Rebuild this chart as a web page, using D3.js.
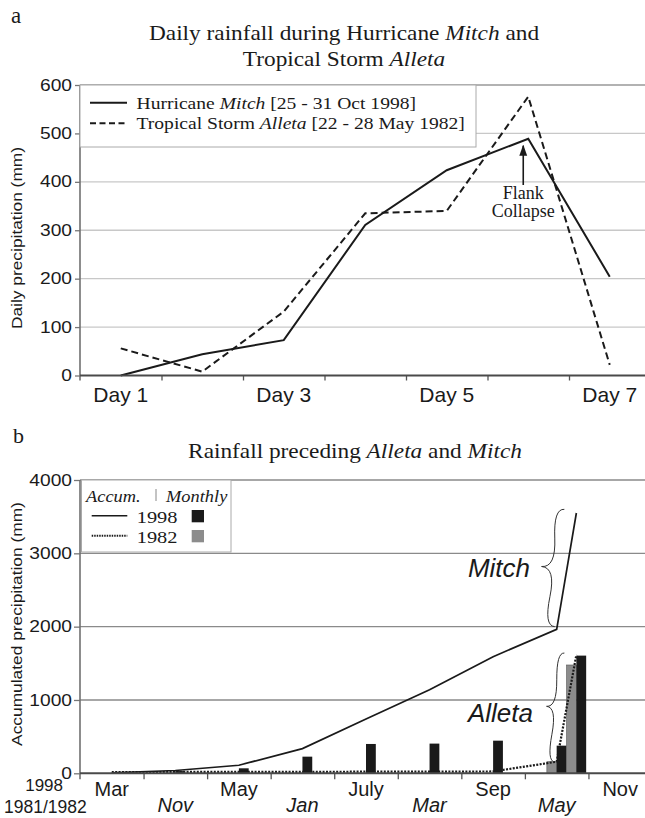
<!DOCTYPE html>
<html>
<head>
<meta charset="utf-8">
<script src="https://cdn.jsdelivr.net/npm/d3@7"></script>
<style>
  body { margin: 0; background: #fff; }
  svg { display: block; }
</style>
</head>
<body>
<svg id="chart" width="645" height="818"></svg>
<script>
// ---- panel a: daily rainfall ----
const days = ["Day 1", "Day 2", "Day 3", "Day 4", "Day 5", "Day 6", "Day 7"];
const dayLabels = ["Day 1", "Day 3", "Day 5", "Day 7"];
const mitchDaily = [0, 44, 73, 311, 424, 489, 204];
const alletaDaily = [56, 8, 132, 335, 340, 576, 22];
const dailyTicks = [0, 100, 200, 300, 400, 500, 600];

// ---- panel b: rainfall preceding the storms ----
const months = ["Mar", "Apr", "May", "Jun", "Jul", "Aug", "Sep", "Oct", "Nov"];
const labels1998 = ["Mar", "", "May", "", "July", "", "Sep", "", "Nov"];
const labels1982 = ["", "Nov", "", "Jan", "", "Mar", "", "May", ""];
const monthly1998 = [8, 30, 68, 227, 400, 405, 445, 377];
const monthly1982 = [0, 0, 0, 0, 0, 0, 0, 158];
const accum1998 = [5, 38, 110, 337, 740, 1140, 1590, 1964];
const accum1982 = [15, 18, 20, 20, 22, 22, 25, 158];
const stormNames = ["Alleta", "Mitch"];
const stormTotals = [1477, 1605];   // storm rainfall, 1982 (gray) / 1998 (black)
const stormAccum = [1615, 3550];    // accumulated at the end of each storm
const accumTicks = [0, 1000, 2000, 3000, 4000];
const stormPos = 7.81;              // late October, in months from start

const SERIF = "'Liberation Serif', 'Times New Roman', serif";
const SANS = "'Liberation Sans', Arial, sans-serif";
const INK = "#1a1a1a";

const svg = d3.select("#chart");
svg.append("rect").attr("width", 645).attr("height", 818).attr("fill", "#fff");

svg.append("defs").append("marker")
  .attr("id", "arrow")
  .attr("viewBox", "0 0 10 10")
  .attr("refX", 9).attr("refY", 5)
  .attr("markerWidth", 7).attr("markerHeight", 7)
  .attr("orient", "auto")
  .append("path").attr("d", "M0,1.5 L10,5 L0,8.5 Z").attr("fill", INK);

// text with mixed roman / italic parts, stretched horizontally by sx
const label = (g, x, y, parts, o) => {
  const t = g.append("text")
    .attr("transform", `translate(${x},${y}) scale(${o.sx || 1},1)`)
    .attr("text-anchor", o.anchor || "start")
    .style("font-family", o.family || SERIF)
    .style("font-size", o.size + "px")
    .attr("fill", o.fill || INK);
  parts.forEach(p => t.append("tspan").text(p[0]).style("font-style", p[1] ? "italic" : "normal"));
  return t;
}

const stretchTicks = (sel, sx) => {
  sel.selectAll(".tick text").each(function () {
    const x = +this.getAttribute("x");
    d3.select(this).attr("x", 0).attr("transform", `translate(${x},0) scale(${sx},1)`);
  });
}

// curly brace from (x1,y1) to (x2,y2), tip pushed w to the left
const brace = (x1, y1, x2, y2, w, q) => {
  let dx = x1 - x2, dy = y1 - y2;
  const len = Math.sqrt(dx * dx + dy * dy);
  dx /= len; dy /= len;
  const qx1 = x1 + q * w * dy, qy1 = y1 - q * w * dx;
  const qx2 = (x1 - .25 * len * dx) + (1 - q) * w * dy, qy2 = (y1 - .25 * len * dy) - (1 - q) * w * dx;
  const tx = (x1 - .5 * len * dx) + w * dy, ty = (y1 - .5 * len * dy) - w * dx;
  const qx3 = x2 + q * w * dy, qy3 = y2 - q * w * dx;
  const qx4 = (x1 - .75 * len * dx) + (1 - q) * w * dy, qy4 = (y1 - .75 * len * dy) - (1 - q) * w * dx;
  return `M${x1},${y1} Q${qx1},${qy1} ${qx2},${qy2} T${tx},${ty} M${x2},${y2} Q${qx3},${qy3} ${qx4},${qy4} T${tx},${ty}`;
}

// ================= panel a =================
const ga = svg.append("g");
const xa = d3.scaleBand().domain(days).range([80, 650.5]);
const xaEdge = d3.scaleLinear().domain([0, days.length]).range(xa.range());
const ya = d3.scaleLinear().domain([0, 600]).range([375.5, 85]);
const dayX = d => xa(d) + xa.bandwidth() / 2;

label(ga, 11, 22.7, [["a"]], { size: 23 });
label(ga, 344, 40, [["Daily rainfall during Hurricane "], ["Mitch", true], [" and"]], { size: 21, sx: 1.11, anchor: "middle" });
label(ga, 344, 66, [["Tropical Storm "], ["Alleta", true]], { size: 21, sx: 1.11, anchor: "middle" });

ga.selectAll(".grid").data(dailyTicks.slice(1, -1)).join("line")
  .attr("x1", 80).attr("x2", 650.5)
  .attr("y1", d => ya(d)).attr("y2", d => ya(d))
  .attr("stroke", "#c8c8c8").attr("stroke-width", 1.3);
ga.append("line").attr("x1", 80).attr("x2", 650.5).attr("y1", ya(600)).attr("y2", ya(600))
  .attr("stroke", "#999").attr("stroke-width", 1.4);

const lineA = d3.line().x((d, i) => dayX(days[i])).y(d => ya(d));
ga.append("path").datum(mitchDaily).attr("d", lineA)
  .attr("fill", "none").attr("stroke", INK).attr("stroke-width", 2);
ga.append("path").datum(alletaDaily).attr("d", lineA)
  .attr("fill", "none").attr("stroke", INK).attr("stroke-width", 2).attr("stroke-dasharray", "7,4");

// y axis
const yAxisA = ga.append("g").attr("transform", "translate(80,0)")
  .call(d3.axisLeft(ya).tickValues(dailyTicks).tickSize(5).tickPadding(3).tickFormat(d3.format("d")));
yAxisA.select(".domain").remove();
yAxisA.selectAll(".tick line").attr("stroke", "#777").attr("stroke-width", 1.3);
yAxisA.selectAll(".tick text").style("font-family", SANS).style("font-size", "16px").attr("fill", INK);
stretchTicks(yAxisA, 1.2);
ga.append("line").attr("x1", 80).attr("x2", 80).attr("y1", ya(600)).attr("y2", ya(0) + 5)
  .attr("stroke", "#707070").attr("stroke-width", 1.6);

// x axis: ticks between days, labels on every second day
const xEdgeA = ga.append("g").attr("transform", `translate(0,${ya(0)})`)
  .call(d3.axisBottom(xaEdge).tickValues(d3.range(1, days.length + 1)).tickSize(5).tickFormat(""));
xEdgeA.select(".domain").remove();
xEdgeA.selectAll(".tick line").attr("stroke", "#555").attr("stroke-width", 1.3);
const xAxisA = ga.append("g").attr("transform", `translate(0,${ya(0)})`)
  .call(d3.axisBottom(xa).tickValues(dayLabels).tickSize(0).tickPadding(11.5));
xAxisA.select(".domain").remove();
xAxisA.selectAll(".tick text").style("font-family", SANS).style("font-size", "21px").attr("fill", INK);
ga.append("line").attr("x1", 80).attr("x2", 650.5).attr("y1", ya(0)).attr("y2", ya(0))
  .attr("stroke", "#4a4a4a").attr("stroke-width", 2);

ga.append("text")
  .attr("transform", "translate(22,238) rotate(-90) scale(1.24,1)")
  .attr("text-anchor", "middle")
  .style("font-family", SANS).style("font-size", "14px").attr("fill", INK)
  .text("Daily precipitation (mm)");

// legend a
const legA = ga.append("g");
legA.append("rect").attr("x", 80).attr("y", 85).attr("width", 396).attr("height", 62)
  .attr("fill", "#fff").attr("stroke", "#aaa").attr("stroke-width", 1);
legA.append("line").attr("x1", 90).attr("x2", 127).attr("y1", 102.7).attr("y2", 102.7)
  .attr("stroke", INK).attr("stroke-width", 2);
legA.append("line").attr("x1", 90).attr("x2", 127).attr("y1", 123.3).attr("y2", 123.3)
  .attr("stroke", INK).attr("stroke-width", 2).attr("stroke-dasharray", "6,3.5");
label(legA, 136.5, 108.5, [["Hurricane "], ["Mitch", true], [" [25 - 31 Oct 1998]"]], { size: 17.5, sx: 1.12 });
label(legA, 136.5, 129, [["Tropical Storm "], ["Alleta", true], [" [22 - 28 May 1982]"]], { size: 17.5, sx: 1.12 });

// flank collapse annotation
const fx = dayX("Day 6") - 5;
ga.append("line").attr("x1", fx).attr("x2", fx).attr("y1", 185).attr("y2", ya(mitchDaily[5]) + 7)
  .attr("stroke", INK).attr("stroke-width", 1.6).attr("marker-end", "url(#arrow)");
label(ga, fx, 198.5, [["Flank"]], { size: 18, anchor: "middle" });
label(ga, fx, 217, [["Collapse"]], { size: 18, anchor: "middle" });

// ================= panel b =================
const gb = svg.append("g");
const xb = d3.scaleLinear().domain([0, months.length]).range([80, 652]);
const yb = d3.scaleLinear().domain([0, 4000]).range([773.3, 480]);
const bw = 9.8;

label(gb, 13, 442.5, [["b"]], { size: 22 });
label(gb, 355, 458.3, [["Rainfall preceding "], ["Alleta", true], [" and "], ["Mitch", true]], { size: 21, sx: 1.11, anchor: "middle" });

gb.selectAll(".grid").data(accumTicks.slice(1)).join("line")
  .attr("x1", 80).attr("x2", 652)
  .attr("y1", d => yb(d)).attr("y2", d => yb(d))
  .attr("stroke", "#8a8a8a").attr("stroke-width", 1.3);

// monthly bars
gb.selectAll(".bar82").data(monthly1982).join("rect")
  .attr("x", (d, i) => xb(i + 0.5) - bw).attr("width", bw)
  .attr("y", d => yb(d)).attr("height", d => yb(0) - yb(d))
  .attr("fill", "#8c8c8c").attr("stroke", "#555").attr("stroke-width", 0.6);
gb.selectAll(".bar98").data(monthly1998).join("rect")
  .attr("x", (d, i) => xb(i + 0.5)).attr("width", bw)
  .attr("y", d => yb(d)).attr("height", d => yb(0) - yb(d))
  .attr("fill", INK);
// storm totals
gb.selectAll(".storm").data(stormTotals).join("rect")
  .attr("x", (d, i) => xb(stormPos) + (i - 1) * bw).attr("width", bw)
  .attr("y", d => yb(d)).attr("height", d => yb(0) - yb(d))
  .attr("fill", (d, i) => i ? INK : "#8c8c8c")
  .attr("stroke", (d, i) => i ? "none" : "#555").attr("stroke-width", 0.6);

// accumulated lines
const lineB = d3.line().x(d => xb(d[0])).y(d => yb(d[1]));
const pts1998 = accum1998.map((v, i) => [i + 0.5, v]).concat([[stormPos, stormAccum[1]]]);
const pts1982 = accum1982.map((v, i) => [i + 0.5, v]).concat([[stormPos, stormAccum[0]]]);
gb.append("path").datum(pts1982).attr("d", lineB)
  .attr("fill", "none").attr("stroke", INK).attr("stroke-width", 2.2).attr("stroke-dasharray", "2,1.4");
gb.append("path").datum(pts1998).attr("d", lineB)
  .attr("fill", "none").attr("stroke", INK).attr("stroke-width", 1.7);

// y axis
const yAxisB = gb.append("g").attr("transform", "translate(80,0)")
  .call(d3.axisLeft(yb).tickValues(accumTicks).tickSize(6).tickPadding(2).tickFormat(d3.format("d")));
yAxisB.select(".domain").remove();
yAxisB.selectAll(".tick line").attr("stroke", "#777").attr("stroke-width", 1.3);
yAxisB.selectAll(".tick text").style("font-family", SANS).style("font-size", "16px").attr("fill", INK);
stretchTicks(yAxisB, 1.2);
gb.append("line").attr("x1", 80).attr("x2", 80).attr("y1", yb(4000)).attr("y2", yb(0) + 6)
  .attr("stroke", "#707070").attr("stroke-width", 1.6);

// x axis: month ticks and two rows of labels
const xEdgeB = gb.append("g").attr("transform", `translate(0,${yb(0)})`)
  .call(d3.axisBottom(xb).tickValues(d3.range(1, months.length + 1)).tickSize(6).tickFormat(""));
xEdgeB.select(".domain").remove();
xEdgeB.selectAll(".tick line").attr("stroke", "#555").attr("stroke-width", 1.3);
gb.append("line").attr("x1", 80).attr("x2", 652).attr("y1", yb(0)).attr("y2", yb(0))
  .attr("stroke", "#4a4a4a").attr("stroke-width", 2);

gb.selectAll(".m98").data(labels1998).join("text")
  .attr("x", (d, i) => xb(i + 0.5)).attr("y", 796)
  .attr("text-anchor", "middle")
  .style("font-family", SANS).style("font-size", "20px").attr("fill", INK)
  .text(d => d);
gb.selectAll(".m82").data(labels1982).join("text")
  .attr("x", (d, i) => xb(i + 0.5)).attr("y", 811.7)
  .attr("text-anchor", "middle")
  .style("font-family", SANS).style("font-size", "20px").style("font-style", "italic").attr("fill", INK)
  .text(d => d);
label(gb, 63, 791, [["1998"]], { family: SANS, size: 17, anchor: "end" });
label(gb, 4, 813, [["1981/1982"]], { family: SANS, size: 17.5 });

gb.append("text")
  .attr("transform", "translate(22,624) rotate(-90) scale(1.24,1)")
  .attr("text-anchor", "middle")
  .style("font-family", SANS).style("font-size", "14px").attr("fill", INK)
  .text("Accumulated precipitation (mm)");

// braces and storm names
gb.append("path")
  .attr("d", brace(xb(stormPos) - 12, yb(3600), xb(7.5) - 2, yb(2000), 18, 0.6))
  .attr("fill", "none").attr("stroke", "#333").attr("stroke-width", 1);
gb.append("path")
  .attr("d", brace(xb(stormPos) - 12, yb(1640), xb(7.5) - 2, yb(155), 13, 0.6))
  .attr("fill", "none").attr("stroke", "#333").attr("stroke-width", 1);
label(gb, 530, 576.7, [[stormNames[1], true]], { family: SANS, size: 26, anchor: "end" });
label(gb, 533, 721.7, [[stormNames[0], true]], { family: SANS, size: 26, anchor: "end" });

// legend b
const legB = gb.append("g");
legB.append("rect").attr("x", 81.5).attr("y", 480).attr("width", 149.5).attr("height", 72)
  .attr("fill", "#fff").attr("stroke", "#aaa").attr("stroke-width", 1);
label(legB, 86, 501.7, [["Accum.", true]], { size: 16, sx: 1.15 });
legB.append("line").attr("x1", 156).attr("x2", 156).attr("y1", 489).attr("y2", 501)
  .attr("stroke", "#888").attr("stroke-width", 1);
label(legB, 166, 501.7, [["Monthly", true]], { size: 16, sx: 1.15 });
legB.append("line").attr("x1", 91.7).attr("x2", 127.3).attr("y1", 515.7).attr("y2", 515.7)
  .attr("stroke", INK).attr("stroke-width", 1.6);
legB.append("line").attr("x1", 91.7).attr("x2", 127.3).attr("y1", 535.7).attr("y2", 535.7)
  .attr("stroke", INK).attr("stroke-width", 2).attr("stroke-dasharray", "1.5,1");
label(legB, 136.7, 522.7, [["1998"]], { size: 17, sx: 1.2 });
label(legB, 136.7, 542.7, [["1982"]], { size: 17, sx: 1.2 });
legB.append("rect").attr("x", 191.7).attr("y", 510).attr("width", 12.3).attr("height", 12.3).attr("fill", INK);
legB.append("rect").attr("x", 191.7).attr("y", 530).attr("width", 12.3).attr("height", 12.3).attr("fill", "#8c8c8c");
</script>
</body>
</html>
